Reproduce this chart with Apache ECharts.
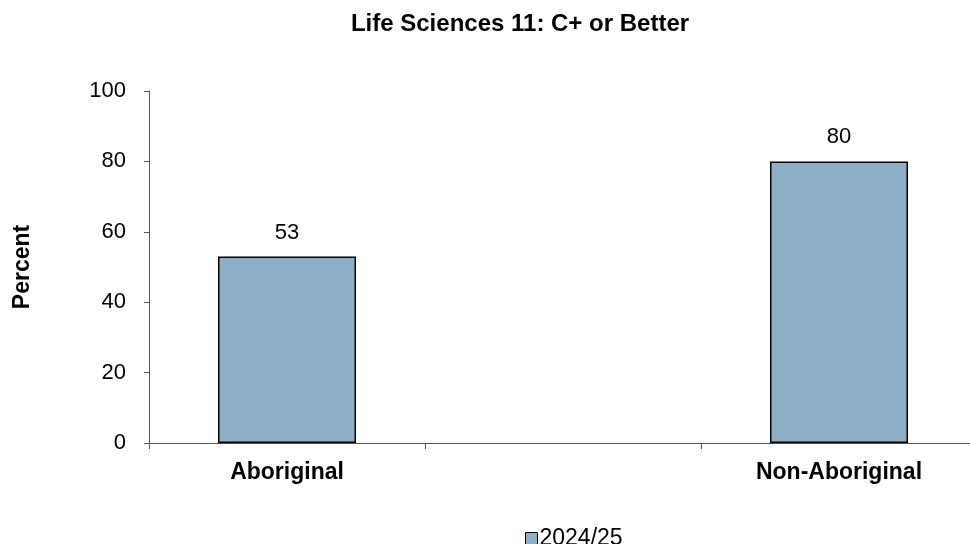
<!DOCTYPE html>
<html><head><meta charset="utf-8">
<script src="https://cdn.jsdelivr.net/npm/echarts@6/dist/echarts.min.js"></script>
<style>html,body{margin:0;padding:0;background:#fff;overflow:hidden;width:970px;height:544px}#c{width:990px;height:544px}</style>
</head><body><div id="c"></div>
<script>
const categories = ["Aboriginal", "", "Non-Aboriginal"];
const seriesName = "2024/25";
const values = [53, null, 80];
const yTicks = [0, 20, 40, 60, 80, 100];

const FONT = 'Liberation Sans, Arial, sans-serif';
const chart = echarts.init(document.getElementById('c'));
chart.setOption({
  animation: false,
  backgroundColor: '#fff',
  title: {
    text: 'Life Sciences 11: C+ or Better',
    left: 515, top: 7, textAlign: 'center',
    textStyle: {fontFamily: FONT, fontWeight: 'bold', fontSize: 24, color: '#000'}
  },
  legend: {
    top: 522, left: 520, itemWidth: 12, itemHeight: 12, itemGap: 2, icon: 'rect',
    data: [seriesName],
    textStyle: {fontFamily: FONT, fontSize: 23, color: '#000', padding: [0,0,0,-3]},
    itemStyle: {borderColor: '#000', borderWidth: 1}
  },
  grid: {left: 149, right: 13, top: 91, bottom: 101, containLabel: false},
  xAxis: {
    type: 'category', data: categories,
    axisLine: {lineStyle: {color: '#555', width: 1}},
    axisTick: {show: true, length: 6, lineStyle: {color: '#555'}, alignWithLabel: false},
    axisLabel: {fontFamily: FONT, fontWeight: 'bold', fontSize: 23, color: '#000', margin: 18, interval: 0},
    splitLine: {show: false}
  },
  yAxis: {
    type: 'value', min: yTicks[0], max: yTicks[yTicks.length-1], interval: 20,
    name: 'Percent', nameLocation: 'middle', nameGap: 115, nameRotate: 90,
    nameTextStyle: {fontFamily: FONT, fontWeight: 'bold', fontSize: 23, color: '#000'},
    axisLine: {show: true, lineStyle: {color: '#555', width: 1}},
    axisTick: {show: true, length: 5, lineStyle: {color: '#555'}},
    axisLabel: {fontFamily: FONT, fontSize: 22, color: '#000', margin: 23},
    splitLine: {show: false}
  },
  series: [{
    name: seriesName, type: 'bar', data: values, barWidth: '50%',
    itemStyle: {color: '#8EB0C6', borderColor: '#000', borderWidth: 1.5},
    label: {show: true, position: 'top', distance: 13, fontFamily: FONT, fontSize: 22, color: '#000'}
  }]
});
</script></body></html>
